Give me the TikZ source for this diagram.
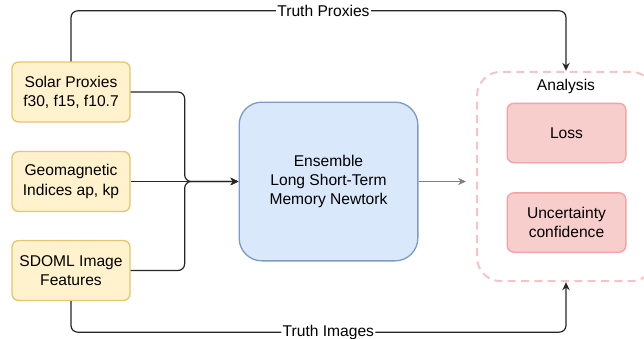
\documentclass[tikz,border=0pt]{standalone}
\usepackage{fontspec}
\setmainfont{Liberation Sans}
\usetikzlibrary{arrows.meta,calc}
\definecolor{inyellow}{HTML}{FFF2CC}
\definecolor{inyellowline}{HTML}{E3C66F}
\definecolor{netblue}{HTML}{DAE8FC}
\definecolor{netblueline}{HTML}{7C9BC8}
\definecolor{outred}{HTML}{F8CECC}
\definecolor{outredline}{HTML}{F0A4A4}
\definecolor{dashred}{HTML}{F6C4C4}
\begin{document}
\begin{tikzpicture}[x=0.75pt,y=-0.75pt,
  font=\fontsize{11.7}{14.3}\selectfont,
  inbox/.style={draw=inyellowline,fill=inyellow,line width=1pt,rounded corners=5pt,
    minimum width=88.5pt,minimum height=45pt,align=center,inner sep=0pt},
  netbox/.style={draw=netblueline,fill=netblue,line width=1pt,rounded corners=17pt,
    minimum width=134pt,minimum height=119pt,align=center,inner sep=0pt},
  outbox/.style={draw=outredline,fill=outred,line width=1pt,rounded corners=5pt,
    minimum width=89pt,minimum height=44.5pt,align=center,inner sep=0pt},
  groupbox/.style={draw=dashred,line width=1.5pt,dash pattern=on 6pt off 4pt,
    rounded corners=18pt,minimum width=133.5pt,minimum height=157pt,inner sep=0pt},
  flow/.style={draw=black!85,line width=0.9pt,rounded corners=5pt,
    -{Stealth[length=6pt,width=5.5pt]}},
  feed/.style={draw=black!50,line width=0.8pt,shorten >=7.5pt,
    -{Stealth[length=6pt,width=5.5pt]}},
  lbl/.style={fill=white,inner sep=1pt}]
\useasboundingbox (0,0) rectangle (644,339);

% inputs
\node[inbox] (solar) at (71,92)    {Solar Proxies\\f30, f15, f10.7};
\node[inbox] (geo)   at (71,181.5) {Geomagnetic\\Indices ap, kp};
\node[inbox] (sdoml) at (71,270.5) {SDOML Image\\Features};

% model
\node[netbox] (lstm) at (328.5,181.5) {Ensemble\\Long Short-Term\\Memory Newtork};

% analysis group
\node[groupbox] (analysis) at (566,176.5) {};
\node[] (anlabel) at (566,86) {Analysis};
\node[outbox] (loss) at (566.5,133)   {Loss};
\node[outbox] (unc)  at (566.5,222.5) {Uncertainty\\confidence};

% connectors
\draw[flow] (solar.east) -- ++(54,0) |- (lstm.west);
\draw[flow] (sdoml.east) -- ++(54,0) |- (lstm.west);
\draw[flow] (geo.east) -- (lstm.west);
\draw[feed] (lstm.east) -- (lstm.east -| analysis.west);

\draw[flow] (solar.north) |- node[lbl,pos=0.755] {Truth Proxies}
  ($(analysis.north)+(0,-60)$) -- (analysis.north);
\draw[flow] (sdoml.south) |- node[lbl,pos=0.76] {Truth Images}
  ($(analysis.south)+(0,50)$) -- (analysis.south);
\end{tikzpicture}
\end{document}
